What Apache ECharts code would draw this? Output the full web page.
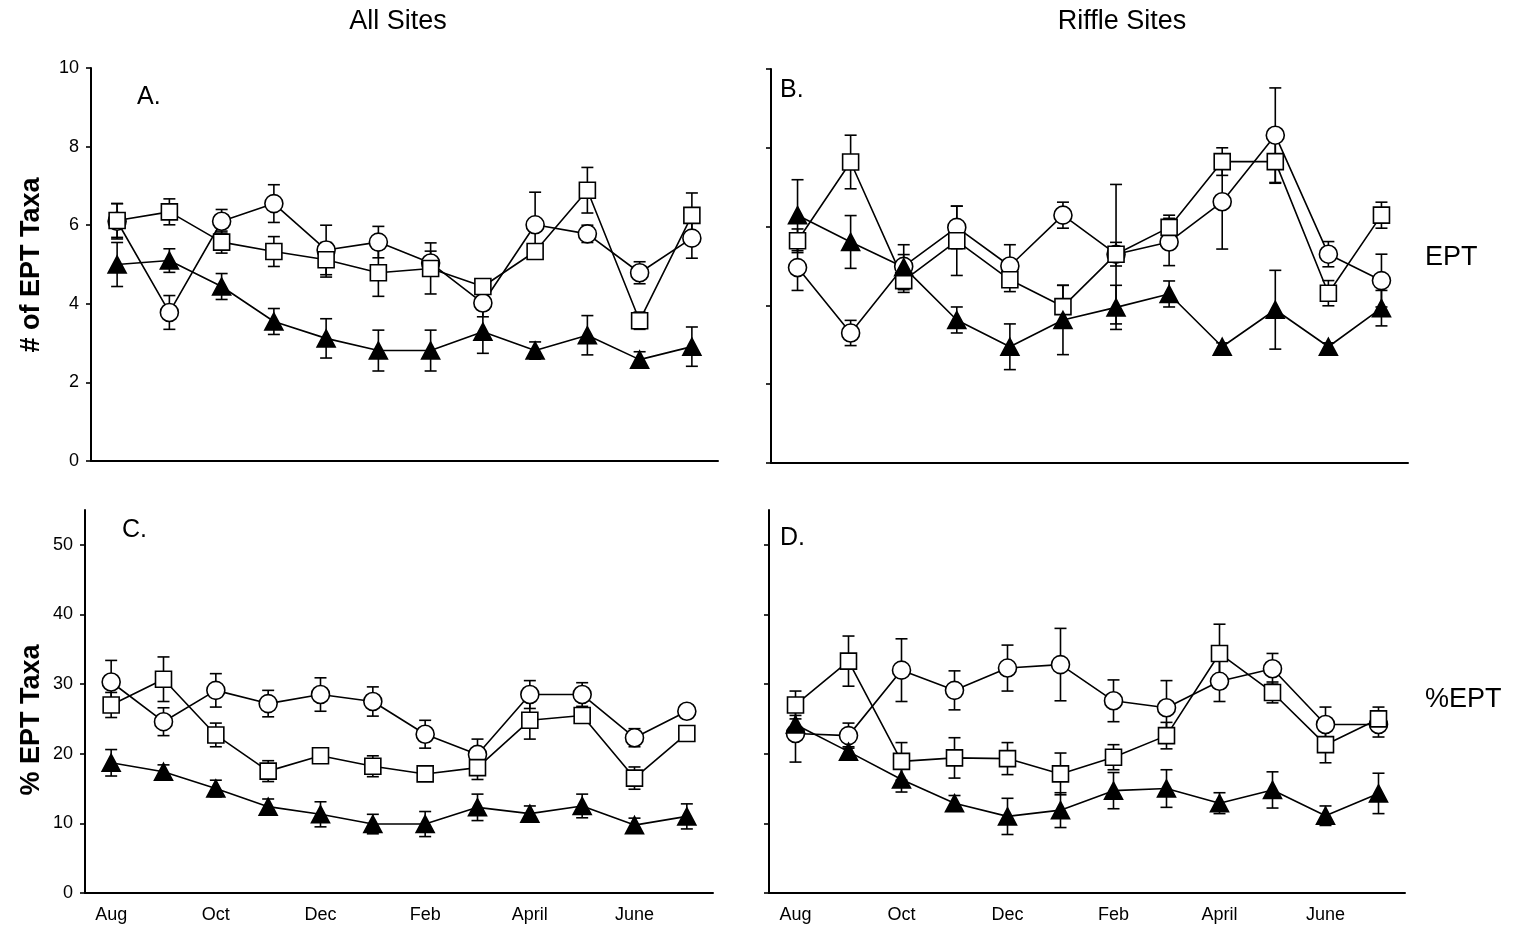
<!DOCTYPE html>
<html>
<head>
<meta charset="utf-8">
<script src="https://cdn.jsdelivr.net/npm/echarts@6/dist/echarts.min.js"></script>
<style>
html, body { margin: 0; padding: 0; background: #fff; }
#container { width: 1514px; height: 934px; }
</style>
</head>
<body>
<div id="container"></div>
<script>
// months, Aug through July
var months = ['Aug', 'Sep', 'Oct', 'Nov', 'Dec', 'Jan', 'Feb', 'Mar', 'April', 'May', 'June', 'July'];

// A. # of EPT taxa, all sites
var circleA = [6.1, 3.78, 6.1, 6.55, 5.37, 5.57, 5.04, 4.02, 6.01, 5.78, 4.79, 5.67];
var circleA_se = [0.45, 0.43, 0.3, 0.48, 0.63, 0.4, 0.3, 0.35, 0.83, 0.22, 0.28, 0.51];
var squareA = [6.12, 6.34, 5.57, 5.33, 5.12, 4.79, 4.9, 4.44, 5.33, 6.89, 3.57, 6.25];
var squareA_se = [0.43, 0.33, 0.28, 0.38, 0.44, 0.6, 0.65, 0.15, 0.1, 0.58, 0.22, 0.57];
var triA = [5.0, 5.1, 4.44, 3.55, 3.12, 2.81, 2.81, 3.29, 2.81, 3.2, 2.58, 2.91];
var triA_se = [0.56, 0.3, 0.33, 0.33, 0.5, 0.52, 0.52, 0.55, 0.22, 0.5, 0.2, 0.5];

// B. # of EPT taxa, riffle sites
var circleB = [4.96, 3.3, 4.99, 5.98, 5.0, 6.29, 5.3, 5.61, 6.63, 8.32, 5.3, 4.63];
var circleB_se = [0.58, 0.32, 0.3, 0.54, 0.54, 0.33, 0.3, 0.6, 1.2, 1.2, 0.32, 0.67];
var squareB = [5.64, 7.64, 4.63, 5.64, 4.65, 3.97, 5.3, 5.98, 7.65, 7.65, 4.31, 6.29];
var squareB_se = [0.3, 0.68, 0.3, 0.88, 0.3, 0.54, 1.77, 0.31, 0.35, 0.55, 0.32, 0.33];
var triB = [6.29, 5.61, 4.97, 3.63, 2.95, 3.63, 3.95, 4.29, 2.95, 3.89, 2.95, 3.93];
var triB_se = [0.9, 0.67, 0.57, 0.33, 0.58, 0.88, 0.56, 0.33, 0.1, 1.0, 0.1, 0.45];

// C. % EPT taxa, all sites
var circleC = [30.3, 24.6, 29.1, 27.2, 28.5, 27.5, 22.8, 19.9, 28.5, 28.5, 22.3, 26.1];
var circleC_se = [3.1, 2.0, 2.4, 1.9, 2.4, 2.1, 2.0, 2.2, 2.0, 1.7, 1.3, 0.6];
var squareC = [27.0, 30.7, 22.7, 17.5, 19.7, 18.2, 17.1, 18.0, 24.8, 25.5, 16.5, 22.9];
var squareC_se = [1.8, 3.2, 1.7, 1.5, 0.5, 1.5, 0.5, 1.7, 2.7, 0.8, 1.6, 0.5];
var triC = [18.7, 17.4, 15.0, 12.4, 11.3, 9.9, 9.9, 12.3, 11.4, 12.5, 9.75, 11.0];
var triC_se = [1.9, 1.0, 1.2, 1.1, 1.8, 1.4, 1.8, 1.9, 1.1, 1.7, 1.0, 1.8];

// D. % EPT taxa, riffle sites
var circleD = [22.9, 22.6, 32.0, 29.1, 32.3, 32.8, 27.6, 26.6, 30.4, 32.2, 24.2, 24.2];
var circleD_se = [4.1, 1.8, 4.5, 2.8, 3.3, 5.2, 3.0, 3.9, 2.9, 2.2, 2.5, 1.8];
var squareD = [27.0, 33.3, 18.9, 19.4, 19.3, 17.1, 19.5, 22.6, 34.4, 28.8, 21.3, 25.0];
var squareD_se = [2.0, 3.6, 2.7, 2.9, 2.3, 3.0, 1.8, 1.9, 4.2, 1.5, 2.6, 1.7];
var triD = [24.2, 20.3, 16.3, 12.9, 11.0, 11.9, 14.7, 15.0, 12.9, 14.8, 11.1, 14.3];
var triD_se = [1.3, 0.7, 1.8, 1.1, 2.6, 2.5, 2.6, 2.7, 1.5, 2.6, 1.4, 2.9];

// y tick labels
var countTicks = [0, 2, 4, 6, 8, 10];
var pctTicks = [0, 10, 20, 30, 40, 50];

var myChart = echarts.init(document.getElementById('container'));
var font = '"Liberation Sans", Arial, sans-serif';

// error bars drawn as custom series: vertical line with caps
function errSeries(idx, mean, se) {
    var data = [];
    for (var i = 0; i < mean.length; i++) {
        data.push([i, mean[i] - se[i], mean[i] + se[i]]);
    }
    return {
        type: 'custom',
        xAxisIndex: idx,
        yAxisIndex: idx,
        z: 1,
        silent: true,
        encode: { x: 0, y: [1, 2] },
        renderItem: function (params, api) {
            var lo = api.coord([api.value(0), api.value(1)]);
            var hi = api.coord([api.value(0), api.value(2)]);
            var w = 6;
            var st = { stroke: '#000', lineWidth: 1.6 };
            return {
                type: 'group',
                children: [
                    { type: 'line', shape: { x1: lo[0], y1: lo[1], x2: hi[0], y2: hi[1] }, style: st },
                    { type: 'line', shape: { x1: lo[0] - w, y1: lo[1], x2: lo[0] + w, y2: lo[1] }, style: st },
                    { type: 'line', shape: { x1: hi[0] - w, y1: hi[1], x2: hi[0] + w, y2: hi[1] }, style: st }
                ]
            };
        },
        data: data
    };
}

function lineSeries(idx, data, symbol, size, fill) {
    return {
        type: 'line',
        xAxisIndex: idx,
        yAxisIndex: idx,
        data: data,
        symbol: symbol,
        symbolSize: size,
        showAllSymbol: true,
        z: 2,
        lineStyle: { color: '#000', width: 1.6 },
        itemStyle: { color: fill, borderColor: '#000', borderWidth: 1.6, opacity: 1 }
    };
}

function panel(idx, c, cse, s, sse, t, tse) {
    return [
        errSeries(idx, c, cse),
        errSeries(idx, s, sse),
        errSeries(idx, t, tse),
        lineSeries(idx, c, 'circle', 18, '#fff'),
        lineSeries(idx, s, 'rect', 16, '#fff'),
        lineSeries(idx, t, 'triangle', [18, 17], '#000')
    ];
}

function xAx(idx, showLabels) {
    return {
        type: 'category',
        gridIndex: idx,
        data: months,
        boundaryGap: true,
        axisLine: { lineStyle: { color: '#000', width: 2 } },
        axisTick: { interval: 0, length: 5, lineStyle: { color: '#000', width: 1.6 } },
        axisLabel: { show: showLabels, interval: 1, color: '#000', fontSize: 18, fontFamily: font, margin: 13 },
        splitLine: { show: false }
    };
}

function yAx(idx, max, ticks, showLabels) {
    return {
        type: 'value',
        gridIndex: idx,
        min: 0,
        max: max,
        axisLine: { show: true, lineStyle: { color: '#000', width: 2 } },
        axisTick: { show: true, length: 5, customValues: ticks, lineStyle: { color: '#000', width: 1.6 } },
        axisLabel: { show: showLabels, customValues: ticks, color: '#000', fontSize: 18, fontFamily: font, margin: 12 },
        splitLine: { show: false }
    };
}

function txt(x, y, text, size, align, extra) {
    var o = {
        type: 'text',
        x: x,
        y: y,
        style: {
            text: text,
            font: (extra && extra.bold ? 'bold ' : '') + size + 'px ' + font,
            fill: '#000',
            textAlign: align,
            textVerticalAlign: 'middle'
        }
    };
    if (extra && extra.rotation) o.rotation = extra.rotation;
    return o;
}

var option = {
    animation: false,
    backgroundColor: '#fff',
    grid: [
        { left: 91, top: 68, width: 627, height: 393 },
        { left: 771, top: 69, width: 637, height: 394 },
        { left: 85, top: 510, width: 628, height: 383 },
        { left: 769, top: 510, width: 636, height: 383 }
    ],
    xAxis: [xAx(0, false), xAx(1, false), xAx(2, true), xAx(3, true)],
    yAxis: [
        yAx(0, 10, countTicks, true),
        yAx(1, 10, countTicks, false),
        yAx(2, 55, pctTicks, true),
        yAx(3, 55, pctTicks, false)
    ],
    series: [].concat(
        panel(0, circleA, circleA_se, squareA, squareA_se, triA, triA_se),
        panel(1, circleB, circleB_se, squareB, squareB_se, triB, triB_se),
        panel(2, circleC, circleC_se, squareC, squareC_se, triC, triC_se),
        panel(3, circleD, circleD_se, squareD, squareD_se, triD, triD_se)
    ),
    graphic: [
        txt(398, 22, 'All Sites', 27, 'center'),
        txt(1122, 22, 'Riffle Sites', 27, 'center'),
        txt(137, 97, 'A.', 25, 'left'),
        txt(780, 90, 'B.', 25, 'left'),
        txt(122, 530, 'C.', 25, 'left'),
        txt(780, 538, 'D.', 25, 'left'),
        txt(1425, 258, 'EPT', 27, 'left'),
        txt(1425, 700, '%EPT', 27, 'left'),
        txt(32, 265, '# of EPT Taxa', 27, 'center', { bold: true, rotation: Math.PI / 2 }),
        txt(32, 720, '% EPT Taxa', 27, 'center', { bold: true, rotation: Math.PI / 2 })
    ]
};

myChart.setOption(option);
</script>
</body>
</html>
